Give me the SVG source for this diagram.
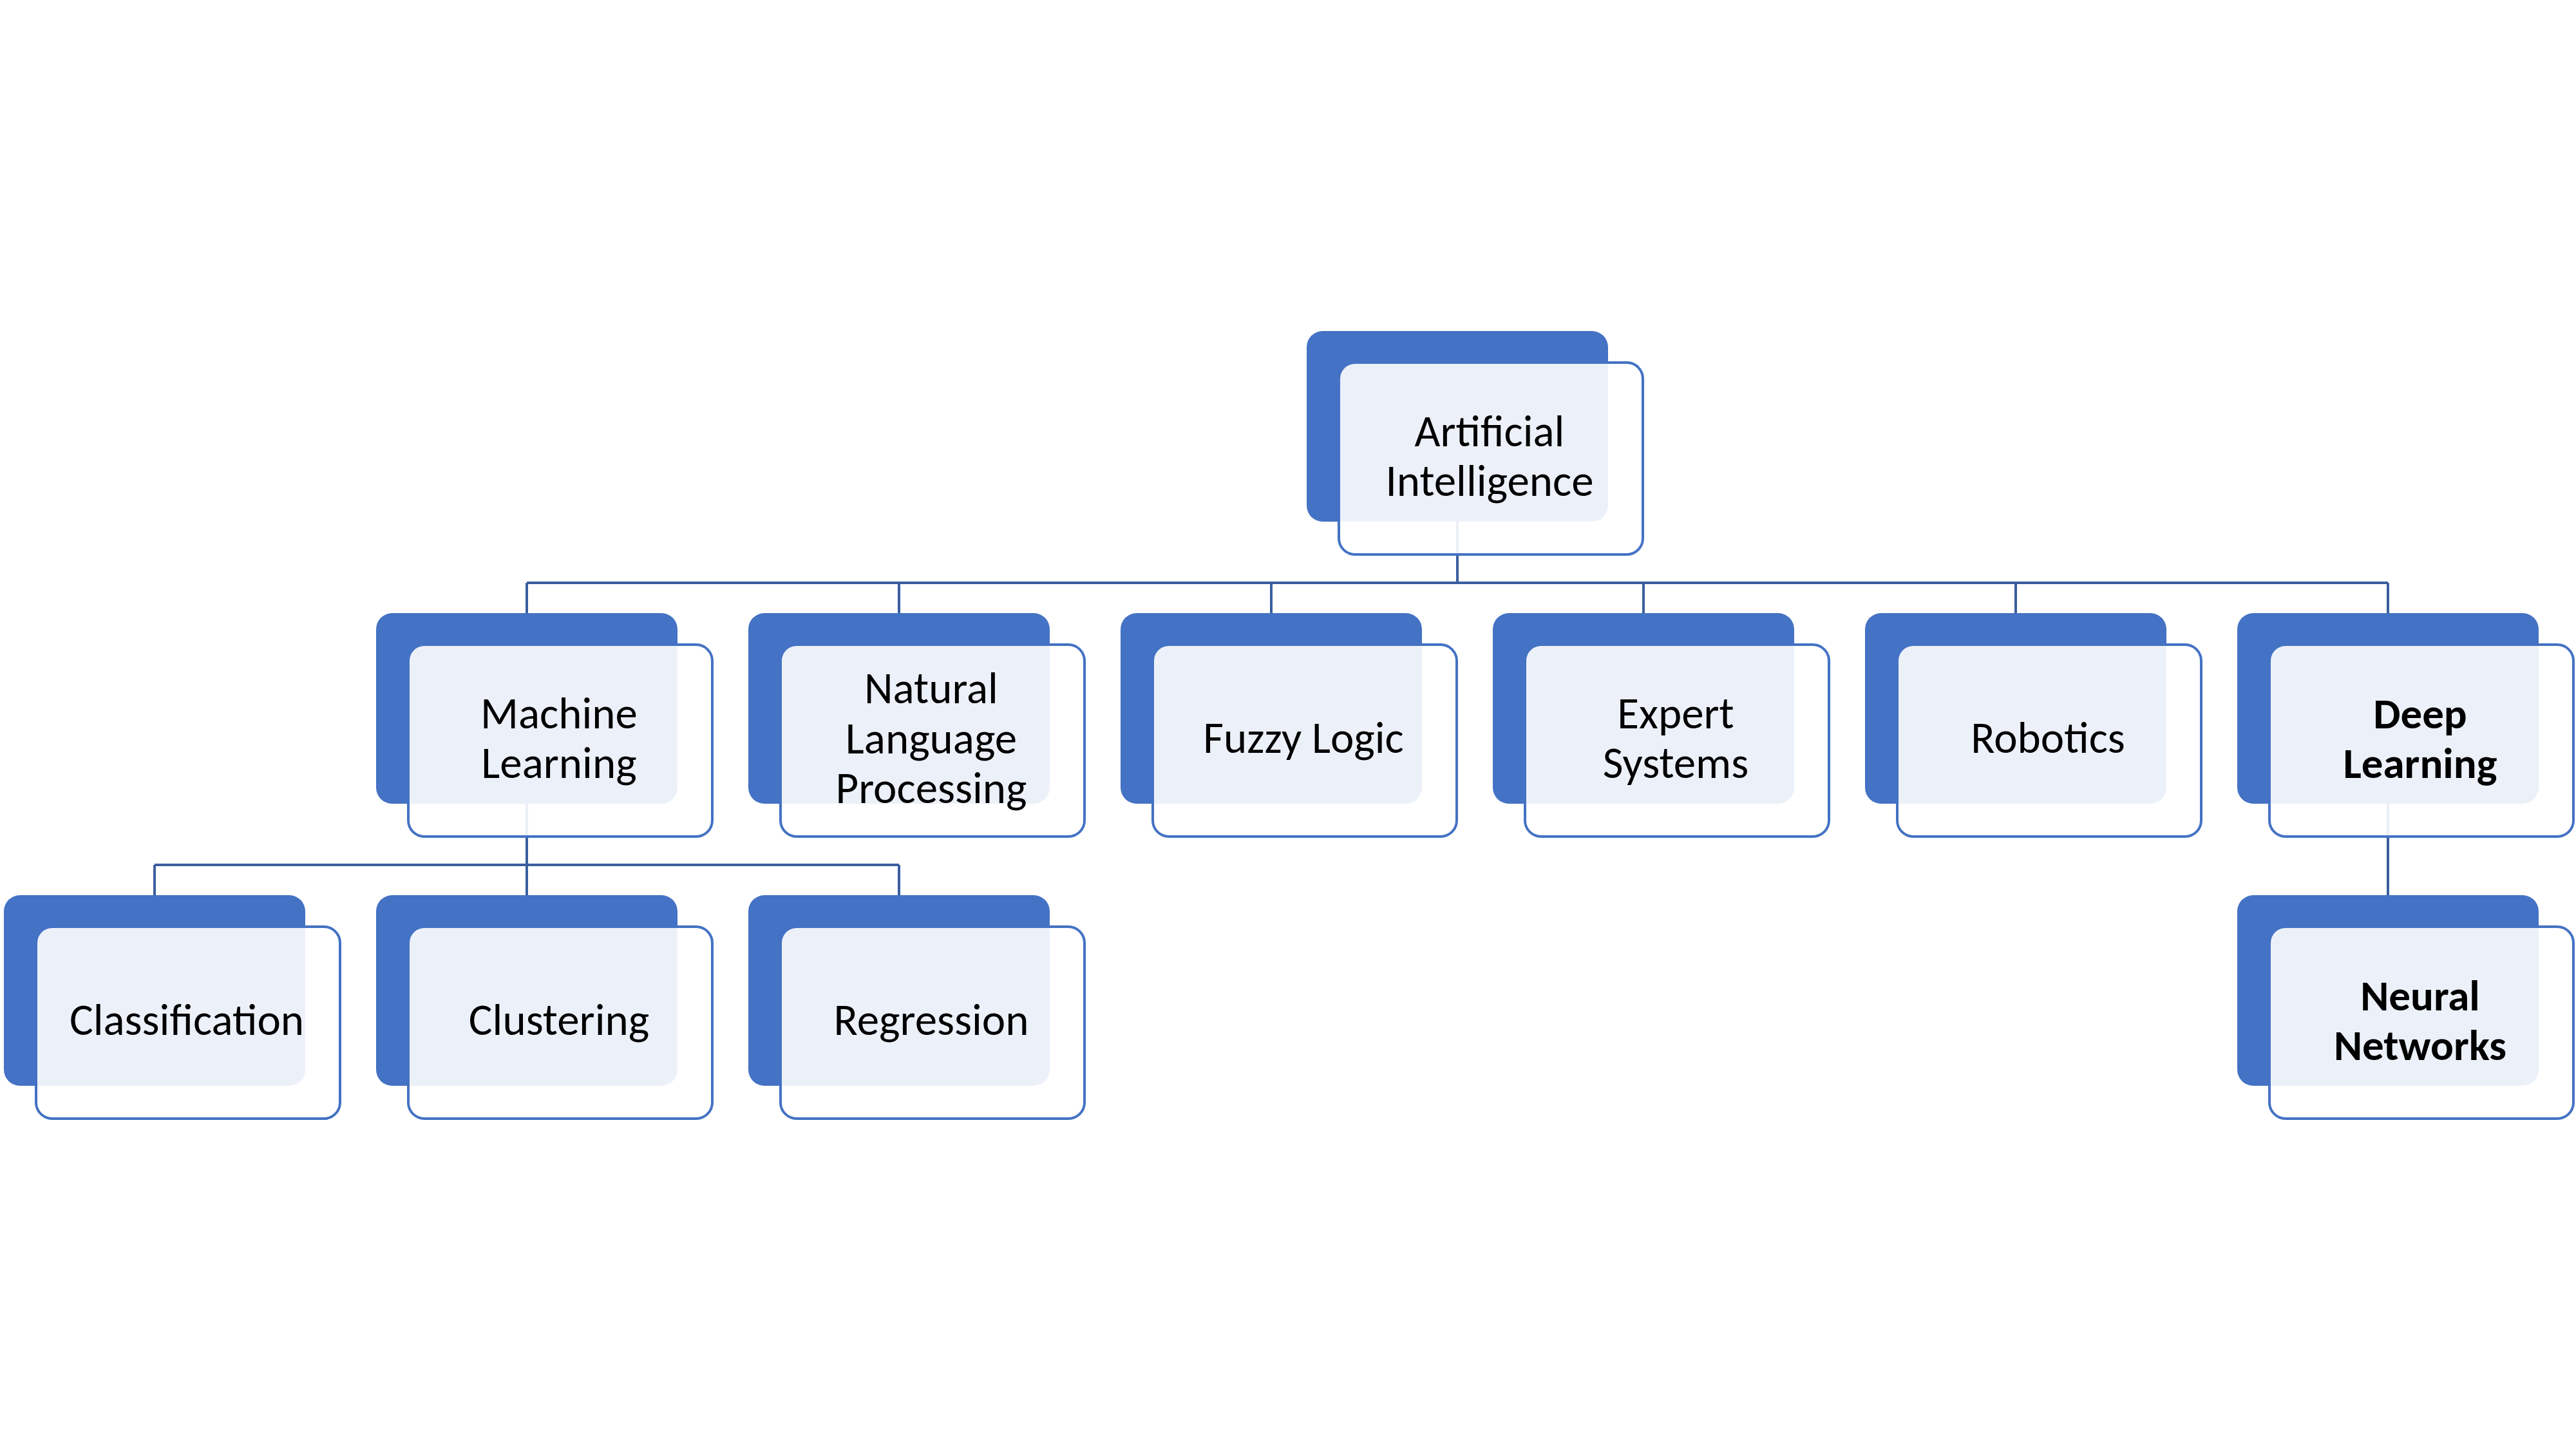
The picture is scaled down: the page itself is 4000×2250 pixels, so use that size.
<svg xmlns="http://www.w3.org/2000/svg" width="4000" height="2250" viewBox="0 0 4000 2250">
<style>
.back{fill:#4472C4}
.front{fill:#FFFFFF;fill-opacity:0.9;stroke:#4472C4;stroke-width:4}
.lbl{font-family:Carlito,Lato,"Liberation Sans",sans-serif;font-size:69px;fill:#000;text-anchor:middle}
.b{font-weight:bold;font-size:67px}
.con{fill:none;stroke:#3A5F9F;stroke-width:4}
</style>
<rect width="4000" height="2250" fill="#FFFFFF"/>
<g id="connectors">
<path class="con" d="M2263 810V905M818 905H3708M818 905V952M1396 905V952M1974 905V952M2552 905V952M3130 905V952M3708 905V952"/>
<path class="con" d="M818 1248V1343M240 1343H1396M240 1343V1390M818 1343V1390M1396 1343V1390"/>
<path class="con" d="M3708 1248V1390"/>
</g>
<g id="ai">
<rect class="back" x="2029" y="514" width="468" height="296" rx="25"/>
<rect class="front" x="2079" y="563" width="472" height="298" rx="25"/>
<text class="lbl" x="2313" y="693">Artificial</text>
<text class="lbl" x="2313" y="770">Intelligence</text>
</g>
<g id="ml">
<rect class="back" x="584" y="952" width="468" height="296" rx="25"/>
<rect class="front" x="634" y="1001" width="472" height="298" rx="25"/>
<text class="lbl" x="868" y="1131">Machine</text>
<text class="lbl" x="868" y="1208">Learning</text>
</g>
<g id="nlp">
<rect class="back" x="1162" y="952" width="468" height="296" rx="25"/>
<rect class="front" x="1212" y="1001" width="472" height="298" rx="25"/>
<text class="lbl" x="1446" y="1092">Natural</text>
<text class="lbl" x="1446" y="1170">Language</text>
<text class="lbl" x="1446" y="1247">Processing</text>
</g>
<g id="fuzzy">
<rect class="back" x="1740" y="952" width="468" height="296" rx="25"/>
<rect class="front" x="1790" y="1001" width="472" height="298" rx="25"/>
<text class="lbl" x="2024" y="1169">Fuzzy Logic</text>
</g>
<g id="expert">
<rect class="back" x="2318" y="952" width="468" height="296" rx="25"/>
<rect class="front" x="2368" y="1001" width="472" height="298" rx="25"/>
<text class="lbl" x="2602" y="1131">Expert</text>
<text class="lbl" x="2602" y="1208">Systems</text>
</g>
<g id="robotics">
<rect class="back" x="2896" y="952" width="468" height="296" rx="25"/>
<rect class="front" x="2946" y="1001" width="472" height="298" rx="25"/>
<text class="lbl" x="3180" y="1169">Robotics</text>
</g>
<g id="dl">
<rect class="back" x="3474" y="952" width="468" height="296" rx="25"/>
<rect class="front" x="3524" y="1001" width="472" height="298" rx="25"/>
<text class="lbl b" x="3758" y="1131">Deep</text>
<text class="lbl b" x="3758" y="1208">Learning</text>
</g>
<g id="classification">
<rect class="back" x="6" y="1390" width="468" height="296" rx="25"/>
<rect class="front" x="56" y="1439" width="472" height="298" rx="25"/>
<text class="lbl" x="290" y="1607">Classification</text>
</g>
<g id="clustering">
<rect class="back" x="584" y="1390" width="468" height="296" rx="25"/>
<rect class="front" x="634" y="1439" width="472" height="298" rx="25"/>
<text class="lbl" x="868" y="1607">Clustering</text>
</g>
<g id="regression">
<rect class="back" x="1162" y="1390" width="468" height="296" rx="25"/>
<rect class="front" x="1212" y="1439" width="472" height="298" rx="25"/>
<text class="lbl" x="1446" y="1607">Regression</text>
</g>
<g id="nn">
<rect class="back" x="3474" y="1390" width="468" height="296" rx="25"/>
<rect class="front" x="3524" y="1439" width="472" height="298" rx="25"/>
<text class="lbl b" x="3758" y="1569">Neural</text>
<text class="lbl b" x="3758" y="1646">Networks</text>
</g>
</svg>
